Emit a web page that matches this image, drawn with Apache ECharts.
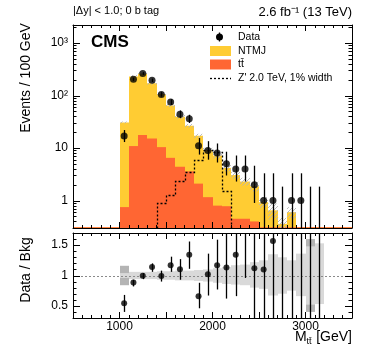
<!DOCTYPE html>
<html><head><meta charset="utf-8">
<script src="https://cdn.jsdelivr.net/npm/echarts@6/dist/echarts.min.js"></script>
<style>html,body{margin:0;padding:0;background:#fff}#c{width:374px;height:351px}</style>
</head><body><div id="c"></div>
<script>
// ---------------- data (bins of 100 GeV, centres) ----------------
const binCenters = [550,650,750,850,950,1050,1150,1250,1350,1450,1550,1650,1750,1850,1950,2050,2150,2250,2350,2450,2550,2650,2750,2850,2950,3050,3150,3250,3350,3450];
const binWidth = 100;
const ntmj   = [0,0,0,0,0, 30,220,245,156,96,58,35,23,15,8,6.4,3.4,2.6,1.85,1.47,0.62,0.34,0.05,0.29,0, 0,0,0,0,0];
const ttbar  = [0.31,0.31,0.31,0.31,0.31, 0.75,10.9,17.7,15.2,10.4,6.5,4.4,3.6,2.1,1.16,0.8,0.78,0.45,0.45,0.4, 0.31,0.31,0.31,0.31,0.31,0.31,0.31,0.31,0.31,0.31];
const zprime = [0,0,0,0,0, 0,0,0,0,0.9,1.3,2.4,3.5,5.8,9,8.5,1.55,0,0,0, 0,0,0,0,0,0,0,0,0,0];
const dataCounts = [null,null,null,null,null, 17,204,262,195,105,75,44,36,11,9,8,5,4,4,2,1,1,0,1,1,0,0, null,null,null];
const dataLo = [null,null,null,null,null, 13,190,246,181,95,66,37,30,7.5,6,5.3,3,2.3,2.3,0.9,0.17,0.17,0,0.17,0.17,0,0, null,null,null];
const dataHi = [null,null,null,null,null, 22,219,279,210,116,85,52,43,15.5,13.5,12.2,8.5,7.2,7.2,4.6,3.3,3.3,1.84,3.3,3.3,1.84,1.84, null,null,null];
const ratio   = [null,null,null,null,null, 0.545,0.883,0.995,1.14,0.99,1.17,1.105,1.34,0.66,1.02,1.17,1.13,1.34,null,1.12,1.1,1.57,null,null,null,null,null, null,null,null];
const ratioLo = [null,null,null,null,null, 0.40,0.82,0.94,1.06,0.90,1.06,0.93,1.11,0.46,0.67,0.77,0.62,0.66,0.96,0,0,0,0,0,0,0,0, null,null,null];
const ratioHi = [null,null,null,null,null, 0.68,0.93,1.04,1.20,1.08,1.31,1.27,1.56,0.88,1.36,1.59,2.0,2.4,3.0,2.5,3.5,2.1,9,5,9,9,9, null,null,null];
const bandLo = [null,null,null,null,null, 0.96,0.94,0.94,0.94,0.93,0.93,0.92,0.92,0.91,0.90,0.88,0.86,0.85,0.84,0.80,0.78,0.67,0.70,0.75,0.66,0.52,0.53, null,null,null];
const bandHi = [null,null,null,null,null, 1.04,1.06,1.06,1.06,1.07,1.07,1.08,1.08,1.09,1.10,1.12,1.14,1.17,1.18,1.22,1.25,1.35,1.30,1.25,1.36,1.48,1.53, null,null,null];
const statLo = [null,null,null,null,null, 0.84,null,null,null,null,null,null,null,null,null,null,null,null,null,null,null,null,null,null,null,0.40,null, null,null,null];
const statHi = [null,null,null,null,null, 1.16,null,null,null,null,null,null,null,null,null,null,null,null,null,null,null,null,null,null,null,1.60,null, null,null,null];
const xTickLabels = ['1000','2000','3000'];
const yTopTickValues = [1,10,100,1000];
const yTopTickLabels = ['1','10','10\u00B2','10\u00B3'];
const yRatioTickValues = [0.5,1,1.5];
const yRatioTickLabels = ['0.5','1','1.5'];

// ---------------- style ----------------
const FONT = '"Liberation Sans", Arial, Helvetica, sans-serif';
const YELLOW = '#FFCC33', RED = '#FF6633';
const X_MIN = 500, X_MAX = 3500, Y_MIN = 0.3, Y_MAX = 2200, R_MIN = 0.3, R_MAX = 1.7;

const hatch = document.createElement('canvas');
hatch.width = 4; hatch.height = 4;
(function(){const g = hatch.getContext('2d'); g.strokeStyle = '#b4b4b4'; g.lineWidth = 0.9;
  g.beginPath(); g.moveTo(0,4); g.lineTo(4,0); g.moveTo(-1,1); g.lineTo(1,-1); g.moveTo(3,5); g.lineTo(5,3); g.stroke();})();

const total = binCenters.map((c,i)=>ntmj[i]+ttbar[i]);

function clamp(v,a,b){return Math.max(a,Math.min(b,v));}

function histRender(color){
  return function(params, api){
    const c = api.value(0), v = api.value(1);
    if (!(v > Y_MIN)) return null;
    const p1 = api.coord([c - binWidth/2, Math.min(v, Y_MAX)]);
    const p2 = api.coord([c + binWidth/2, Y_MIN]);
    const x1 = Math.round(p1[0]), x2 = Math.round(p2[0]);
    return {type:'rect', shape:{x:x1, y:p1[1], width:x2-x1, height:p2[1]-p1[1]}, style:{fill:color}};
  };
}
function bandRender(fill, lo, hi){
  return function(params, api){
    const c = api.value(0), a = api.value(1), b = api.value(2);
    const y1 = clamp(b, lo, hi), y0 = clamp(a, lo, hi);
    if (y1 <= y0) return null;
    const p1 = api.coord([c - binWidth/2, y1]);
    const p2 = api.coord([c + binWidth/2, y0]);
    const x1 = Math.round(p1[0]), x2 = Math.round(p2[0]);
    return {type:'rect', shape:{x:x1, y:p1[1], width:x2-x1, height:p2[1]-p1[1]}, style:{fill:fill}};
  };
}
function errRender(lo, hi){
  return function(params, api){
    const c = api.value(0);
    const a = clamp(api.value(1), lo, hi), b = clamp(api.value(2), lo, hi);
    if (b <= a) return null;
    const p1 = api.coord([c, a]), p2 = api.coord([c, b]);
    const x = Math.round(p1[0]) + 0.5;
    return {type:'line', shape:{x1:x, y1:p1[1], x2:x, y2:p2[1]}, style:{stroke:'#000', lineWidth:1.3}};
  };
}

const option = {
  animation:false,
  backgroundColor:'#fff',
  grid:[
    {left:73, right:22, top:25, height:203},
    {left:73, right:22, top:233, height:85}
  ],
  xAxis:[
    {gridIndex:0, type:'value', min:X_MIN, max:X_MAX, interval:500, position:'bottom', z:10,
     axisLine:{show:true, onZero:false, lineStyle:{color:'#000', width:1}},
     axisTick:{show:true, inside:true, length:6, lineStyle:{color:'#000'}},
     minorTick:{show:true, splitNumber:5, length:3, lineStyle:{color:'#000'}},
     axisLabel:{show:false}, splitLine:{show:false}},
    {gridIndex:1, type:'value', min:X_MIN, max:X_MAX, interval:500, position:'bottom', z:10,
     axisLine:{show:true, onZero:false, lineStyle:{color:'#000', width:1}},
     axisTick:{show:true, inside:true, length:6, lineStyle:{color:'#000'}},
     minorTick:{show:true, splitNumber:5, length:3, lineStyle:{color:'#000'}},
     axisLabel:{show:true, margin:3, color:'#000', fontSize:12, fontFamily:FONT,
       formatter:function(v){const s=String(Math.round(v)); return xTickLabels.indexOf(s)>=0 ? s : '';}},
     splitLine:{show:false}},
    {gridIndex:0, type:'value', min:X_MIN, max:X_MAX, interval:500, position:'top', z:10,
     axisLine:{show:true, onZero:false, lineStyle:{color:'#000', width:1}},
     axisTick:{show:true, inside:true, length:6, lineStyle:{color:'#000'}},
     minorTick:{show:true, splitNumber:5, length:3, lineStyle:{color:'#000'}},
     axisLabel:{show:false}, splitLine:{show:false}},
    {gridIndex:1, type:'value', min:X_MIN, max:X_MAX, interval:500, position:'top', z:10,
     axisLine:{show:true, onZero:false, lineStyle:{color:'#000', width:1}},
     axisTick:{show:true, inside:true, length:6, lineStyle:{color:'#000'}},
     minorTick:{show:true, splitNumber:5, length:3, lineStyle:{color:'#000'}},
     axisLabel:{show:false}, splitLine:{show:false}}
  ],
  yAxis:[
    {gridIndex:0, type:'log', logBase:10, min:Y_MIN, max:Y_MAX, position:'left', z:10,
     axisLine:{show:true, onZero:false, lineStyle:{color:'#000', width:1}},
     axisTick:{show:false}, minorTick:{show:false}, splitLine:{show:false}, minorSplitLine:{show:false},
     axisLabel:{show:true, margin:5, color:'#000', fontSize:12, fontFamily:FONT, showMinLabel:true, showMaxLabel:true,
       formatter:function(v){for(let i=0;i<yTopTickValues.length;i++){if(Math.abs(v-yTopTickValues[i])<1e-6*yTopTickValues[i]) return yTopTickLabels[i];} return '';}}},
    {gridIndex:1, type:'value', min:R_MIN, max:R_MAX, interval:0.1, position:'left', z:10,
     axisLine:{show:true, onZero:false, lineStyle:{color:'#000', width:1}},
     axisTick:{show:false}, splitLine:{show:false},
     axisLabel:{show:true, margin:5, color:'#000', fontSize:12, fontFamily:FONT,
       formatter:function(v){for(let i=0;i<yRatioTickValues.length;i++){if(Math.abs(v-yRatioTickValues[i])<1e-6) return yRatioTickLabels[i];} return '';}}},
    {gridIndex:0, type:'log', logBase:10, min:Y_MIN, max:Y_MAX, position:'right', z:10,
     axisLine:{show:true, onZero:false, lineStyle:{color:'#000', width:1}},
     axisTick:{show:false}, minorTick:{show:false}, axisLabel:{show:false}, splitLine:{show:false}},
    {gridIndex:1, type:'value', min:R_MIN, max:R_MAX, position:'right', z:10,
     axisLine:{show:true, onZero:false, lineStyle:{color:'#000', width:1}},
     axisTick:{show:false}, axisLabel:{show:false}, splitLine:{show:false}}
  ],
  series:[
    // top panel
    {type:'custom', name:'NTMJ', xAxisIndex:0, yAxisIndex:0, z:2, clip:true,
     data:binCenters.map((c,i)=>[c,total[i]]), renderItem:histRender(YELLOW)},
    {type:'custom', name:'ttbar', xAxisIndex:0, yAxisIndex:0, z:3, clip:true,
     data:binCenters.map((c,i)=>[c,ttbar[i]]), renderItem:histRender(RED)},
    {type:'custom', name:'unc', xAxisIndex:0, yAxisIndex:0, z:4, clip:true,
     data:binCenters.map((c,i)=>(bandLo[i]!=null && ntmj[i]>0) ? [c,total[i]*bandLo[i],total[i]*bandHi[i]] : null).filter(d=>d),
     renderItem:function(params, api){
       const c = api.value(0), a = Math.max(api.value(1), Y_MIN), b = Math.min(api.value(2), Y_MAX);
       if (b <= a) return null;
       const p1 = api.coord([c - binWidth/2, b]), p2 = api.coord([c + binWidth/2, a]);
       const x1 = Math.round(p1[0]), x2 = Math.round(p2[0]);
       return {type:'rect', shape:{x:x1, y:p1[1], width:x2-x1, height:p2[1]-p1[1]}, style:{fill:{image:hatch, repeat:'repeat'}}};
     }},
    {type:'custom', name:'Zprime', xAxisIndex:0, yAxisIndex:0, z:5, clip:true,
     data:[[binCenters[0], Y_MIN]],
     renderItem:function(params, api){
       const pts = [];
       for (let i=0;i<binCenters.length;i++){
         const v = zprime[i];
         if (!(v > Y_MIN)) continue;
         const lo = binCenters[i]-binWidth/2, hi = binCenters[i]+binWidth/2;
         if (pts.length===0) pts.push(api.coord([lo, Y_MIN]));
         pts.push(api.coord([lo, v])); pts.push(api.coord([hi, v]));
         const nv = zprime[i+1];
         if (!(nv > Y_MIN)) pts.push(api.coord([hi, Y_MIN]));
       }
       const p = pts.map(q=>[Math.round(q[0])+0.5, Math.round(q[1])+0.5]);
       return {type:'polyline', shape:{points:p}, style:{stroke:'#000', lineWidth:1.3, lineDash:[2,2], fill:null}};
     }},
    {type:'custom', name:'dataErr', xAxisIndex:0, yAxisIndex:0, z:6,
     data:binCenters.map((c,i)=>dataHi[i]!=null ? [c,dataLo[i],dataHi[i]] : null).filter(d=>d),
     renderItem:errRender(Y_MIN, Y_MAX)},
    {type:'scatter', name:'Data', xAxisIndex:0, yAxisIndex:0, z:7, symbol:'circle', symbolSize:7,
     itemStyle:{color:'#000'},
     data:binCenters.map((c,i)=>(dataCounts[i]>0) ? [c,dataCounts[i]] : null).filter(d=>d)},
    // ratio panel
    {type:'custom', name:'statBand', xAxisIndex:1, yAxisIndex:1, z:2,
     data:binCenters.map((c,i)=>statLo[i]!=null ? [c,statLo[i],statHi[i]] : null).filter(d=>d),
     renderItem:bandRender('#b4b4b4', R_MIN, R_MAX)},
    {type:'custom', name:'totBand', xAxisIndex:1, yAxisIndex:1, z:3,
     data:binCenters.map((c,i)=>bandLo[i]!=null ? [c,bandLo[i],bandHi[i]] : null).filter(d=>d),
     renderItem:bandRender('#d9d9d9', R_MIN, R_MAX)},
    {type:'custom', name:'unity', xAxisIndex:1, yAxisIndex:1, z:4,
     data:[[X_MIN,1]],
     renderItem:function(params, api){
       const a = api.coord([X_MIN,1]), b = api.coord([X_MAX,1]);
       const y = Math.round(a[1])+0.5;
       return {type:'line', shape:{x1:a[0], y1:y, x2:b[0], y2:y}, style:{stroke:'#8a8a8a', lineWidth:1.2, lineDash:[2,2]}};
     }},
    {type:'custom', name:'ratioErr', xAxisIndex:1, yAxisIndex:1, z:5,
     data:binCenters.map((c,i)=>ratioHi[i]!=null ? [c,ratioLo[i],ratioHi[i]] : null).filter(d=>d),
     renderItem:errRender(R_MIN, R_MAX)},
    {type:'scatter', name:'Ratio', xAxisIndex:1, yAxisIndex:1, z:6, symbol:'circle', symbolSize:6,
     itemStyle:{color:'#000'},
     data:binCenters.map((c,i)=>ratio[i]!=null ? [c,ratio[i]] : null).filter(d=>d)},
    // y ticks (ROOT style, inside, both sides)
    {type:'custom', name:'yTicksTop', xAxisIndex:0, yAxisIndex:0, z:20, silent:true,
     data:[[X_MIN, 1]],
     renderItem:function(params, api){
       const ch = [];
       const add = (v, len) => {
         const l = api.coord([X_MIN, v]), r = api.coord([X_MAX, v]);
         const y = Math.round(l[1]) + 0.5;
         ch.push({type:'line', shape:{x1:l[0], y1:y, x2:l[0]+len, y2:y}, style:{stroke:'#000', lineWidth:1}});
         ch.push({type:'line', shape:{x1:r[0], y1:y, x2:r[0]-len, y2:y}, style:{stroke:'#000', lineWidth:1}});
       };
       [0.1,1,10,100,1000].forEach(d=>{ for(let k=1;k<=9;k++){ const v=k*d; if(v>Y_MIN*1.0001 && v<Y_MAX) add(v, k===1?7:3.5); } });
       return {type:'group', children:ch};
     }},
    {type:'custom', name:'yTicksRatio', xAxisIndex:1, yAxisIndex:1, z:20, silent:true,
     data:[[X_MIN, 1]],
     renderItem:function(params, api){
       const ch = [];
       for (let k=4;k<=16;k++){
         const v = k/10, major = (k%5===0);
         const l = api.coord([X_MIN, v]), r = api.coord([X_MAX, v]);
         const y = Math.round(l[1]) + 0.5, len = major?7:3.5;
         ch.push({type:'line', shape:{x1:l[0], y1:y, x2:l[0]+len, y2:y}, style:{stroke:'#000', lineWidth:1}});
         ch.push({type:'line', shape:{x1:r[0], y1:y, x2:r[0]-len, y2:y}, style:{stroke:'#000', lineWidth:1}});
       }
       return {type:'group', children:ch};
     }}
  ],
  graphic:[
    {type:'text', x:73, y:11, style:{text:'|\u0394y| < 1.0; 0 b tag', font:'11px '+FONT, fill:'#000', align:'left', verticalAlign:'middle'}},
    {type:'text', x:352, y:12, style:{text:'2.6 fb\u207B\u00B9 (13 TeV)', font:'13px '+FONT, fill:'#000', align:'right', verticalAlign:'middle'}},
    {type:'text', x:91, y:42, style:{text:'CMS', font:'bold 17px '+FONT, fill:'#000', align:'left', verticalAlign:'middle'}},
    // legend
    {type:'line', shape:{x1:219.5, y1:32.5, x2:219.5, y2:41.5}, style:{stroke:'#000', lineWidth:1.3}},
    {type:'circle', shape:{cx:219.5, cy:37, r:3.5}, style:{fill:'#000'}},
    {type:'text', x:238, y:37, style:{text:'Data', font:'10.5px '+FONT, fill:'#000', align:'left', verticalAlign:'middle'}},
    {type:'rect', shape:{x:210, y:46, width:21, height:10}, style:{fill:YELLOW}},
    {type:'text', x:238, y:51, style:{text:'NTMJ', font:'10.5px '+FONT, fill:'#000', align:'left', verticalAlign:'middle'}},
    {type:'rect', shape:{x:210, y:59.5, width:21, height:10}, style:{fill:RED}},
    {type:'text', x:238, y:64, style:{text:'tt\u0304', font:'10.5px '+FONT, fill:'#000', align:'left', verticalAlign:'middle'}},
    {type:'line', shape:{x1:210, y1:78.5, x2:231, y2:78.5}, style:{stroke:'#000', lineWidth:1.3, lineDash:[2,2]}},
    {type:'text', x:238, y:78, style:{text:"Z' 2.0 TeV, 1% width", font:'10.5px '+FONT, fill:'#000', align:'left', verticalAlign:'middle'}},
    // axis titles
    {type:'text', x:26, y:78, rotation:Math.PI/2, style:{text:'Events / 100 GeV', font:'14px '+FONT, fill:'#000', align:'center', verticalAlign:'middle'}},
    {type:'text', x:26, y:270, rotation:Math.PI/2, style:{text:'Data / Bkg', font:'14px '+FONT, fill:'#000', align:'center', verticalAlign:'middle'}},
    {type:'text', x:295, y:337, style:{text:'M', font:'14px '+FONT, fill:'#000', align:'left', verticalAlign:'middle'}},
    {type:'text', x:306.5, y:342, style:{text:'tt\u0304', font:'9px '+FONT, fill:'#000', align:'left', verticalAlign:'middle'}},
    {type:'text', x:352, y:337, style:{text:'[GeV]', font:'14px '+FONT, fill:'#000', align:'right', verticalAlign:'middle'}}
  ]
};
const chart = echarts.init(document.getElementById('c'), null, {renderer:'canvas', width:374, height:351});
chart.setOption(option);
</script>
</body></html>
